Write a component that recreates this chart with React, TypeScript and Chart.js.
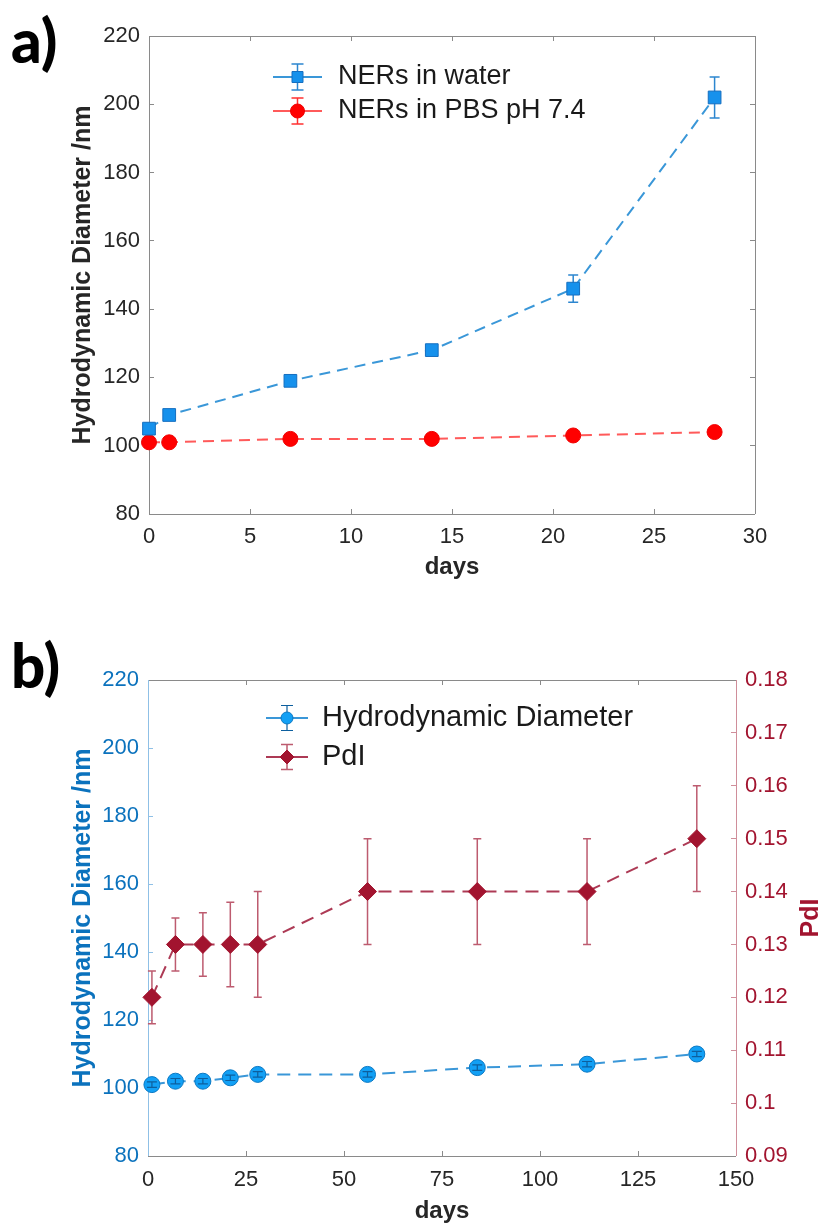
import React, { useEffect, useRef } from 'react';
import { Chart, registerables } from 'chart.js';

Chart.register(...registerables);

// ---------- Panel a data ----------
const daysA = [0, 1, 7, 14, 21, 28];
const waterMean = [105, 109, 119, 128, 146, 202];
const waterErr = [1.5, 1.5, 1.2, 1.5, 4, 6];
const pbsMean = [101, 101, 102, 102, 103, 104];
const pbsErr = [0.5, 0.5, 0.5, 0.5, 0.5, 0.5];

// ---------- Panel b data ----------
const daysB = [1, 7, 14, 21, 28, 56, 84, 112, 140];
const diamMean = [101, 102, 102, 103, 104, 104, 106, 107, 110];
const diamErr = [0.8, 0.8, 0.8, 0.8, 0.8, 0.8, 0.8, 0.8, 0.8];
const pdiMean = [0.12, 0.13, 0.13, 0.13, 0.13, 0.14, 0.14, 0.14, 0.15];
const pdiErr = [0.005, 0.005, 0.006, 0.008, 0.01, 0.01, 0.01, 0.01, 0.01];

// ---------- Tick labels ----------
const diamTicks = [80, 100, 120, 140, 160, 180, 200, 220];
const daysTicksA = [0, 5, 10, 15, 20, 25, 30];
const daysTicksB = [0, 25, 50, 75, 100, 125, 150];
const pdiTicks = [0.09, 0.1, 0.11, 0.12, 0.13, 0.14, 0.15, 0.16, 0.17, 0.18];

const FONT = "'Liberation Sans', Arial, Helvetica, sans-serif";

const fixedTicks = (values: number[]) => (scale: any) => {
  scale.ticks = values.map((v) => ({ value: v }));
};

const pts = (xs: number[], ys: number[]) => xs.map((x, i) => ({ x, y: ys[i] }));

function drawMarker(ctx: CanvasRenderingContext2D, style: string, x: number, y: number, r: number, fill: string, stroke: string) {
  ctx.beginPath();
  if (style === 'rect') {
    ctx.rect(x - r, y - r, 2 * r, 2 * r);
  } else if (style === 'rectRot') {
    ctx.moveTo(x, y - r);
    ctx.lineTo(x + r, y);
    ctx.lineTo(x, y + r);
    ctx.lineTo(x - r, y);
    ctx.closePath();
  } else {
    ctx.arc(x, y, r, 0, Math.PI * 2);
  }
  ctx.fillStyle = fill;
  ctx.fill();
  ctx.strokeStyle = stroke;
  ctx.lineWidth = 1;
  ctx.stroke();
}

const framePlugin = {
  id: 'frame',
  beforeDatasetsDraw(chart: any, _args: any, o: any) {
    const { ctx, chartArea: a, scales } = chart;
    const tl = o.tickLen;
    const px = (v: number) => Math.floor(v) + 0.5;
    const line = (x1: number, y1: number, x2: number, y2: number, c: string) => {
      ctx.strokeStyle = c;
      ctx.lineWidth = 1;
      ctx.beginPath();
      ctx.moveTo(x1, y1);
      ctx.lineTo(x2, y2);
      ctx.stroke();
    };
    ctx.save();
    const xs = scales.x;
    xs.ticks.forEach((t: any) => {
      const x = px(xs.getPixelForValue(t.value));
      line(x, a.bottom, x, a.bottom - tl, o.bottomColor);
      line(x, a.top, x, a.top + tl, o.topColor);
    });
    const yl = scales.y;
    yl.ticks.forEach((t: any) => {
      const y = px(yl.getPixelForValue(t.value));
      line(a.left, y, a.left + tl, y, o.leftColor);
      if (!scales.y2) line(a.right, y, a.right - tl, y, o.rightColor);
    });
    if (scales.y2) {
      const yr = scales.y2;
      yr.ticks.forEach((t: any) => {
        const y = px(yr.getPixelForValue(t.value));
        line(a.right, y, a.right - tl, y, o.rightColor);
      });
    }
    line(a.left, px(a.top), a.right, px(a.top), o.topColor);
    line(a.left, px(a.bottom), a.right, px(a.bottom), o.bottomColor);
    line(px(a.left), a.top, px(a.left), a.bottom, o.leftColor);
    line(px(a.right), a.top, px(a.right), a.bottom, o.rightColor);
    ctx.restore();
  },
};

function drawErr(chart: any, onTop: boolean) {
  const { ctx } = chart;
  chart.data.datasets.forEach((ds: any, i: number) => {
    const eb = ds.errorBars;
    if (!eb || !!eb.onTop !== onTop) return;
    const meta = chart.getDatasetMeta(i);
    const xs = chart.scales[meta.xAxisID];
    const ys = chart.scales[meta.yAxisID];
    ctx.save();
    ctx.strokeStyle = eb.color;
    ctx.lineWidth = eb.width;
    ds.data.forEach((p: any, j: number) => {
      const x = xs.getPixelForValue(p.x);
      const yt = ys.getPixelForValue(p.y + eb.err[j]);
      const yb = ys.getPixelForValue(p.y - eb.err[j]);
      ctx.beginPath();
      ctx.moveTo(x, yt);
      ctx.lineTo(x, yb);
      ctx.moveTo(x - eb.cap, yt);
      ctx.lineTo(x + eb.cap, yt);
      ctx.moveTo(x - eb.cap, yb);
      ctx.lineTo(x + eb.cap, yb);
      ctx.stroke();
    });
    ctx.restore();
  });
}

const errorPlugin = {
  id: 'errbars',
  beforeDatasetsDraw(chart: any) {
    drawErr(chart, false);
  },
  afterDatasetsDraw(chart: any) {
    drawErr(chart, true);
  },
};

const legendPlugin = {
  id: 'boxlegend',
  afterDatasetsDraw(chart: any, _a: any, o: any) {
    const { ctx } = chart;
    chart.data.datasets.forEach((ds: any, i: number) => {
      const y = o.y0 + i * o.dy;
      const x0 = o.x;
      const x1 = o.x + o.w;
      const xc = (x0 + x1) / 2;
      ctx.save();
      ctx.strokeStyle = ds.borderColor;
      ctx.lineWidth = 2;
      ctx.beginPath();
      ctx.moveTo(x0, y);
      ctx.lineTo(x1, y);
      ctx.stroke();
      const eb = ds.errorBars;
      ctx.strokeStyle = eb.color;
      ctx.lineWidth = eb.width;
      ctx.beginPath();
      ctx.moveTo(xc, y - o.eh);
      ctx.lineTo(xc, y + o.eh);
      ctx.moveTo(xc - o.cap, y - o.eh);
      ctx.lineTo(xc + o.cap, y - o.eh);
      ctx.moveTo(xc - o.cap, y + o.eh);
      ctx.lineTo(xc + o.cap, y + o.eh);
      ctx.stroke();
      drawMarker(ctx, ds.pointStyle, xc, y, o.mr[i], ds.pointBackgroundColor, ds.pointBorderColor);
      ctx.fillStyle = o.textColor;
      ctx.font = o.fontStr;
      ctx.textBaseline = 'middle';
      ctx.textAlign = 'left';
      ctx.fillText(ds.label, o.tx, y);
      ctx.restore();
    });
  },
};

const rightTitlePlugin = {
  id: 'rtitle',
  afterDraw(chart: any, _a: any, o: any) {
    if (!o || !o.text) return;
    const { ctx, chartArea: a } = chart;
    ctx.save();
    ctx.translate(o.x, (a.top + a.bottom) / 2);
    ctx.rotate(-Math.PI / 2);
    ctx.font = o.fontStr;
    ctx.fillStyle = o.color;
    ctx.textAlign = 'center';
    ctx.textBaseline = 'middle';
    ctx.fillText(o.text, 0, 0);
    ctx.restore();
  },
};

const tickFont = { family: FONT, size: 22 };
const titleFont = { family: FONT, size: 25, weight: 'bold' as const };
const daysFont = { family: FONT, size: 24, weight: 'bold' as const };

export default function App() {
  const refA = useRef<HTMLCanvasElement>(null);
  const refB = useRef<HTMLCanvasElement>(null);

  useEffect(() => {
    const chartA = new Chart(refA.current as HTMLCanvasElement, {
      type: 'line',
      data: {
        datasets: [
          {
            label: 'NERs in water',
            data: pts(daysA, waterMean),
            borderColor: '#3a97d8',
            borderWidth: 2,
            borderDash: [11, 7],
            backgroundColor: '#1691ec',
            pointStyle: 'rect',
            pointRadius: 9,
            pointBackgroundColor: '#1691ec',
            pointBorderColor: '#166fc0',
            pointBorderWidth: 1,
            tension: 0,
            clip: false,
            errorBars: { err: waterErr, color: '#2c86cf', width: 1.5, cap: 5, onTop: false },
          } as any,
          {
            label: 'NERs in PBS pH 7.4',
            data: pts(daysA, pbsMean),
            borderColor: '#ff5a5a',
            borderWidth: 2,
            borderDash: [11, 7],
            backgroundColor: '#ff0000',
            pointStyle: 'circle',
            pointRadius: 7.5,
            pointBackgroundColor: '#ff0000',
            pointBorderColor: '#f00000',
            pointBorderWidth: 1,
            tension: 0,
            clip: false,
            errorBars: { err: pbsErr, color: '#ff3030', width: 1.5, cap: 4, onTop: false },
          } as any,
        ],
      },
      options: {
        animation: false,
        responsive: false,
        maintainAspectRatio: false,
        layout: { padding: { left: 68, right: 70, top: 36, bottom: 18 } },
        plugins: {
          legend: { display: false },
          tooltip: { enabled: false },
          frame: { tickLen: 5, topColor: '#8a8a8a', bottomColor: '#8a8a8a', leftColor: '#8a8a8a', rightColor: '#8a8a8a' },
          boxlegend: {
            x: 273, w: 49, y0: 77, dy: 34, eh: 13, cap: 6, mr: [5.5, 7], tx: 338,
            fontStr: `27px ${FONT}`, textColor: '#1a1a1a',
          },
        } as any,
        scales: {
          x: {
            type: 'linear',
            min: 0,
            max: 30,
            afterBuildTicks: fixedTicks(daysTicksA),
            afterFit: (s: any) => { s.height = 68; },
            grid: { display: false, drawTicks: false },
            border: { display: false },
            ticks: { padding: 10, font: tickFont, color: '#262626', maxRotation: 0, autoSkip: false },
            title: { display: true, text: 'days', font: daysFont, color: '#262626', padding: 0 },
          },
          y: {
            type: 'linear',
            min: 80,
            max: 220,
            afterBuildTicks: fixedTicks(diamTicks),
            afterFit: (s: any) => { s.width = 81; },
            grid: { display: false, drawTicks: false },
            border: { display: false },
            ticks: { padding: 9, font: tickFont, color: '#262626', autoSkip: false },
            title: { display: true, text: 'Hydrodynamic Diameter /nm', font: titleFont, color: '#262626', padding: 0 },
          },
        },
      },
      plugins: [framePlugin, errorPlugin, legendPlugin],
    });

    const chartB = new Chart(refB.current as HTMLCanvasElement, {
      type: 'line',
      data: {
        datasets: [
          {
            label: 'Hydrodynamic Diameter',
            data: pts(daysB, diamMean),
            yAxisID: 'y',
            borderColor: '#3a97d8',
            borderWidth: 2,
            borderDash: [13, 8],
            backgroundColor: '#12a0f5',
            pointStyle: 'circle',
            pointRadius: 8,
            pointBackgroundColor: '#12a0f5',
            pointBorderColor: '#0b78c2',
            pointBorderWidth: 1,
            tension: 0,
            clip: false,
            errorBars: { err: diamErr, color: '#0d5f9e', width: 1.2, cap: 5, onTop: true },
          } as any,
          {
            label: 'PdI',
            data: pts(daysB, pdiMean),
            yAxisID: 'y2',
            borderColor: '#ad3a55',
            borderWidth: 2,
            borderDash: [13, 8],
            backgroundColor: '#a2142f',
            pointStyle: 'rectRot',
            pointRadius: 9,
            pointBackgroundColor: '#a2142f',
            pointBorderColor: '#a2142f',
            pointBorderWidth: 1,
            tension: 0,
            clip: false,
            errorBars: { err: pdiErr, color: '#bd5b6f', width: 1.5, cap: 4, onTop: false },
          } as any,
        ],
      },
      options: {
        animation: false,
        responsive: false,
        maintainAspectRatio: false,
        layout: { padding: { left: 68, right: 0, top: 80, bottom: 0 } },
        plugins: {
          legend: { display: false },
          tooltip: { enabled: false },
          frame: { tickLen: 5, topColor: '#8a8a8a', bottomColor: '#8a8a8a', leftColor: '#8fc0e6', rightColor: '#cf8e9a' },
          boxlegend: {
            x: 266, w: 42, y0: 118, dy: 39, eh: 12.5, cap: 6, mr: [6, 7], tx: 322,
            fontStr: `29px ${FONT}`, textColor: '#1a1a1a',
          },
          rtitle: { text: 'PdI', x: 811, fontStr: `bold 25px ${FONT}`, color: '#a2142f' },
        } as any,
        scales: {
          x: {
            type: 'linear',
            min: 0,
            max: 150,
            afterBuildTicks: fixedTicks(daysTicksB),
            afterFit: (s: any) => { s.height = 70; },
            grid: { display: false, drawTicks: false },
            border: { display: false },
            ticks: { padding: 11, font: tickFont, color: '#262626', maxRotation: 0, autoSkip: false },
            title: { display: true, text: 'days', font: daysFont, color: '#262626', padding: 0 },
          },
          y: {
            type: 'linear',
            position: 'left',
            min: 80,
            max: 220,
            afterBuildTicks: fixedTicks(diamTicks),
            afterFit: (s: any) => { s.width = 80; },
            grid: { display: false, drawTicks: false },
            border: { display: false },
            ticks: { padding: 9, font: tickFont, color: '#0b72bd', autoSkip: false },
            title: { display: true, text: 'Hydrodynamic Diameter /nm', font: titleFont, color: '#0b72bd', padding: 0 },
          },
          y2: {
            type: 'linear',
            position: 'right',
            min: 0.09,
            max: 0.18,
            afterBuildTicks: fixedTicks(pdiTicks),
            afterFit: (s: any) => { s.width = 89; },
            grid: { display: false, drawTicks: false },
            border: { display: false },
            ticks: {
              padding: 9,
              font: tickFont,
              color: '#a2142f',
              autoSkip: false,
              callback: (v: any) => String(Number(Number(v).toFixed(2))),
            },
          },
        },
      },
      plugins: [framePlugin, errorPlugin, legendPlugin, rightTitlePlugin],
    });

    return () => {
      chartA.destroy();
      chartB.destroy();
    };
  }, []);

  const panelLabel: React.CSSProperties = {
    position: 'absolute',
    left: 11,
    fontFamily: "Lato, 'Open Sans', sans-serif",
    fontWeight: 900,
    fontSize: 60,
    lineHeight: '60px',
    color: '#000',
    margin: 0,
  };

  return (
    <div style={{ position: 'absolute', left: 0, top: 0, width: 825, height: 1226, background: '#fff', overflow: 'hidden' }}>
      <canvas ref={refA} width={825} height={600} style={{ position: 'absolute', left: 0, top: 0, width: 825, height: 600, display: 'block' }} />
      <canvas ref={refB} width={825} height={626} style={{ position: 'absolute', left: 0, top: 600, width: 825, height: 626, display: 'block' }} />
      <div style={{ ...panelLabel, top: 10 }}>a)</div>
      <div style={{ ...panelLabel, top: 635 }}>b)</div>
    </div>
  );
}
